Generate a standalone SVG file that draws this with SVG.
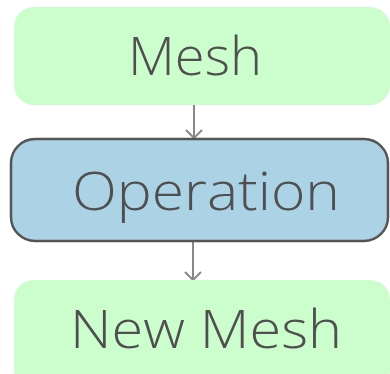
<svg xmlns="http://www.w3.org/2000/svg" width="390" height="374" viewBox="0 0 390 374">
<style>
.t{font-family:"Open Sans","DejaVu Sans",sans-serif;font-weight:300;font-size:54px;fill:#4f4f4f;text-anchor:middle}
.g{fill:#ccfdcc}
.c{stroke:#888;stroke-width:2;fill:none}
</style>
<defs>
<marker id="ah" viewBox="0 0 18 10" refX="9" refY="9" markerWidth="18" markerHeight="10" markerUnits="userSpaceOnUse" orient="0">
<path d="M1,1 L9,9 L17,1" fill="none" stroke="#888" stroke-width="2"/>
</marker>
</defs>
<g id="connectors">
<line class="c" x1="194" y1="105" x2="194" y2="138" marker-end="url(#ah)"/>
<line class="c" x1="193" y1="242" x2="193" y2="280" marker-end="url(#ah)"/>
</g>
<g id="mesh">
<rect class="g" x="14" y="7" width="376" height="98" rx="20"/>
<text class="t" x="195" y="75" textLength="134" lengthAdjust="spacingAndGlyphs">Mesh</text>
</g>
<g id="operation">
<rect x="11" y="139" width="377" height="102" rx="24" fill="#acd2e6" stroke="#555" stroke-width="2.5"/>
<text class="t" x="206" y="210" textLength="268" lengthAdjust="spacingAndGlyphs">Operation</text>
</g>
<g id="newmesh">
<rect class="g" x="14" y="280" width="376" height="110" rx="20"/>
<text class="t" x="206" y="348" textLength="272" lengthAdjust="spacingAndGlyphs">New Mesh</text>
</g>
</svg>
